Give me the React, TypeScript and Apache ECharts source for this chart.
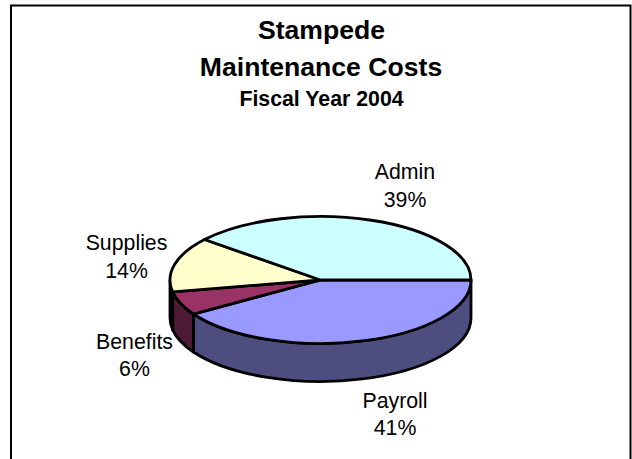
import React, { useEffect, useRef } from "react";
import * as echarts from "echarts";

const categories = ["Payroll", "Benefits", "Supplies", "Admin"];
const shares = [41, 6, 14, 39];
const titleLines = ["Stampede", "Maintenance Costs", "Fiscal Year 2004"];

const topColors = ["#9999ff", "#993366", "#ffffcc", "#ccffff"];
const sideColors = ["#4d4d80", "#4d1a33", "#808066", "#668080"];
const labelCenters = [
  [395, 414.5],
  [134.5, 355.5],
  [126.5, 257],
  [405, 186],
];

const CX = 320.5;
const CY = 280;
const RX = 150.5;
const RY = 63.5;
const DEPTH = 38;
const FONT = '"Liberation Sans", Arial, sans-serif';
const TOTAL = shares.reduce((a, b) => a + b, 0);

const pt = (t: number, dy = 0) => [CX + RX * Math.cos(t), CY + RY * Math.sin(t) + dy];

function renderSlice(params: any, api: any) {
  const i = params.dataIndex;
  let before = 0;
  for (let k = 0; k < i; k++) before += shares[k];
  const value = api.value(0);
  const a0 = (before / TOTAL) * Math.PI * 2;
  const a1 = ((before + value) / TOTAL) * Math.PI * 2;
  const [x0, y0] = pt(a0);
  const [x1, y1] = pt(a1);
  const large = a1 - a0 > Math.PI ? 1 : 0;
  const line = { stroke: "#000", lineWidth: 2.8, lineJoin: "round" };
  const children: any[] = [];

  const s0 = Math.min(a0, Math.PI);
  const s1 = Math.min(a1, Math.PI);
  if (s1 > s0) {
    const [sx0, sy0] = pt(s0);
    const [sx1, sy1] = pt(s1);
    children.push({
      type: "path",
      shape: {
        pathData: `M${sx0} ${sy0}A${RX} ${RY} 0 0 1 ${sx1} ${sy1}L${sx1} ${sy1 + DEPTH}A${RX} ${RY} 0 0 0 ${sx0} ${sy0 + DEPTH}Z`,
      },
      style: { fill: sideColors[i], ...line },
    });
  }
  children.push({
    type: "path",
    shape: {
      pathData: `M${CX} ${CY}L${x0} ${y0}A${RX} ${RY} 0 ${large} 1 ${x1} ${y1}Z`,
    },
    style: { fill: topColors[i], ...line },
  });
  children.push({
    type: "text",
    x: labelCenters[i][0],
    y: labelCenters[i][1],
    style: {
      text: `${categories[i]}\n${value}%`,
      fill: "#000",
      font: `21.3px ${FONT}`,
      lineHeight: 27.5,
      align: "center",
      verticalAlign: "middle",
    },
  });
  return { type: "group", children };
}

export default function App() {
  const ref = useRef<HTMLDivElement>(null);
  useEffect(() => {
    const chart = echarts.init(ref.current!, null, { renderer: "svg" });
    const titleStyle = { fontFamily: FONT, fontWeight: "bold", color: "#000" };
    chart.setOption({
      animation: false,
      backgroundColor: "#fff",
      title: [
        { text: titleLines[0], left: 316.5, textAlign: "center", top: 11, textStyle: { ...titleStyle, fontSize: 26.6 } },
        { text: titleLines[1], left: 316, textAlign: "center", top: 48, textStyle: { ...titleStyle, fontSize: 26.6 } },
        { text: titleLines[2], left: 316.5, textAlign: "center", top: 83.5, textStyle: { ...titleStyle, fontSize: 21.3 } },
      ],
      graphic: [
        {
          type: "polyline",
          shape: { points: [[11, 459], [11, 5.5], [630.5, 5.5], [630.5, 459]] },
          style: { stroke: "#000", lineWidth: 2, fill: null },
        },
      ],
      series: [
        {
          type: "custom",
          coordinateSystem: "none",
          renderItem: renderSlice,
          data: shares.map((v, i) => ({ name: categories[i], value: [v] })),
          clip: false,
        },
      ],
    });
    return () => chart.dispose();
  }, []);
  return <div ref={ref} style={{ position: "fixed", left: 0, top: 0, width: 632, height: 459 }} />;
}
